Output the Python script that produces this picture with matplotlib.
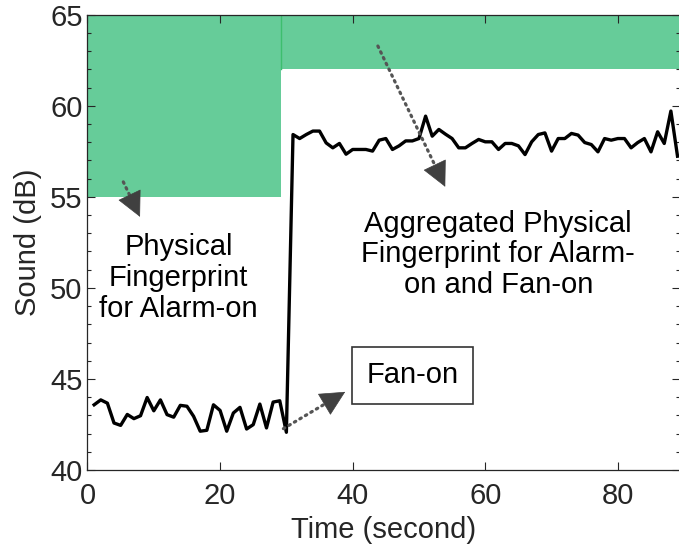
import matplotlib
matplotlib.use("Agg")
import matplotlib.pyplot as plt
from matplotlib.ticker import MultipleLocator

plt.rcParams['font.family'] = ['Liberation Sans', 'DejaVu Sans']

# ---- data ----
time_s = list(range(1, 90))
sound_db = [
    43.58, 43.85, 43.67, 42.58, 42.45, 43.05, 42.82, 42.98, 43.98, 43.25,
    43.85, 43.04, 42.90, 43.55, 43.50, 42.95, 42.13, 42.18, 43.58, 43.27,
    42.13, 43.13, 43.44, 42.25, 42.49, 43.62, 42.31, 43.73, 43.80, 42.07,
    58.42, 58.20, 58.42, 58.61, 58.61, 57.96, 57.69, 57.93, 57.34, 57.60,
    57.60, 57.60, 57.51, 58.11, 58.20, 57.60, 57.80, 58.07, 58.07, 58.20,
    59.43, 58.33, 58.70, 58.44, 58.20, 57.69, 57.69, 57.93, 58.15, 58.02,
    58.02, 57.60, 57.93, 57.93, 57.80, 57.32, 58.02, 58.42, 58.51, 57.51,
    58.20, 58.20, 58.48, 58.39, 57.98, 57.87, 57.47, 58.20, 58.11, 58.20,
    58.20, 57.69, 57.98, 58.20, 57.47, 58.57, 57.93, 59.71, 57.23,
]
# fingerprint regions: (x_start, x_end, y_low, y_high)
fp_alarm = (0, 29.2, 55, 65)
fp_aggregated = (29.2, 95, 62, 65)

xticks = [0, 20, 40, 60, 80]
yticks = [40, 45, 50, 55, 60, 65]

green = '#66CC99'
dark = '#262626'
arrow_col = '#404040'
FS = 21

fig = plt.figure(figsize=(6.79, 5.5), dpi=100)
ax = fig.add_axes([87.5/679, 80/550, (679.5-87.5)/679, (470-14.7)/550])

for (x0, x1, y0, y1) in (fp_alarm, fp_aggregated):
    ax.fill_between([x0, x1], [y0, y0], [y1, y1], color=green, lw=0, zorder=1)
ax.axvline(fp_aggregated[0], ymin=(fp_aggregated[2]-40)/25, ymax=1,
           color='#3DBE6E', lw=1, zorder=1.5)

ax.plot(time_s, sound_db, color='black', lw=2.4, zorder=3)

ax.set_xlim(0, 89.3)
ax.set_ylim(40, 65)
ax.set_xticks(xticks)
ax.set_yticks(yticks)
ax.yaxis.set_minor_locator(MultipleLocator(1))
ax.tick_params(which='both', direction='in', top=True, right=True,
               colors=dark, labelsize=FS, width=0.8)
ax.tick_params(which='major', length=6)
ax.tick_params(which='minor', length=3)
ax.tick_params(axis='x', pad=9)
for sp in ax.spines.values():
    sp.set_color(dark)
    sp.set_linewidth(0.9)
ax.set_xlabel('Time (second)', fontsize=FS, color=dark, labelpad=4)
ax.set_ylabel('Sound (dB)', fontsize=FS, color=dark, labelpad=6)


def dotted_arrow(start, tip):
    dx = tip[0] - start[0]
    dy = tip[1] - start[1]
    hs = (tip[0] - 0.1 * dx, tip[1] - 0.1 * dy)
    ax.plot([start[0], hs[0]], [start[1], hs[1]], linestyle=(0, (0.5, 1.5)),
            color='#555555', lw=2.3, dash_capstyle='round', zorder=4)
    ax.annotate('', xy=tip, xytext=hs,
                arrowprops=dict(arrowstyle='-|>,head_length=0.8,head_width=0.4',
                                color=arrow_col, lw=0.5,
                                shrinkA=0, shrinkB=0, mutation_scale=21),
                zorder=5)


dotted_arrow((5.40, 55.82), (7.92, 53.90))
dotted_arrow((43.8, 63.28), (53.96, 55.55))
dotted_arrow((29.55, 42.27), (38.87, 44.29))

ax.text(13.74, 50.55, 'Physical\nFingerprint\nfor Alarm-on', ha='center',
        va='center', fontsize=FS, linespacing=1.12, color='black', zorder=6)
ax.text(61.96, 51.85, 'Aggregated Physical\nFingerprint for Alarm-\non and Fan-on',
        ha='center', va='center', fontsize=FS, linespacing=1.12, color='black', zorder=6)
ax.text(48.98, 45.2, 'Fan-on', ha='center', va='center', fontsize=FS,
        color='black', zorder=6,
        bbox=dict(boxstyle='square,pad=0.5', fc='white', ec='#333333', lw=1.2))

fig.savefig('out.png', dpi=100)
